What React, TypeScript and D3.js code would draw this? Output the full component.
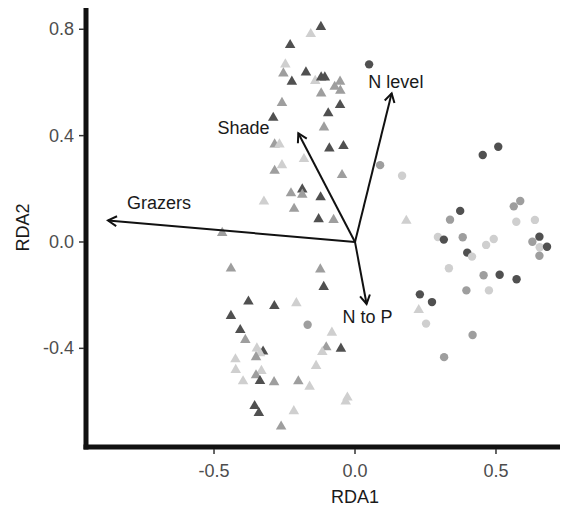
import React from 'react';
import * as d3 from 'd3';

// site scores, triangles (left group)
const triX = [-0.121, -0.157, -0.23, -0.247, -0.254, -0.174, -0.224, -0.141, -0.12, -0.107, -0.072, -0.053, -0.052, -0.12, -0.259, -0.053, -0.095, -0.29, -0.11, -0.285, -0.268, -0.091, -0.041, -0.181, -0.259, -0.285, -0.046, -0.187, -0.227, -0.187, -0.122, -0.323, -0.216, -0.129, -0.076, -0.471, -0.44, -0.123, -0.111, -0.378, -0.286, -0.208, -0.44, -0.407, -0.389, -0.082, -0.348, -0.326, -0.337, -0.351, -0.102, -0.116, -0.05, -0.424, -0.423, -0.332, -0.351, -0.138, -0.397, -0.337, -0.287, -0.201, -0.161, -0.027, -0.033, -0.356, -0.341, -0.217, -0.262, 0.182, 0.226];
const triY = [0.809, 0.782, 0.741, 0.668, 0.634, 0.638, 0.603, 0.606, 0.619, 0.619, 0.584, 0.603, 0.569, 0.559, 0.523, 0.515, 0.484, 0.467, 0.431, 0.367, 0.367, 0.352, 0.361, 0.312, 0.289, 0.268, 0.252, 0.198, 0.183, 0.178, 0.168, 0.152, 0.125, 0.086, 0.083, 0.034, -0.1, -0.103, -0.169, -0.224, -0.241, -0.23, -0.278, -0.331, -0.368, -0.341, -0.4, -0.412, -0.418, -0.433, -0.396, -0.414, -0.401, -0.441, -0.481, -0.485, -0.501, -0.466, -0.524, -0.523, -0.527, -0.524, -0.544, -0.585, -0.6, -0.617, -0.643, -0.636, -0.694, 0.08, -0.256];
const triShade = ['d', 'l', 'd', 'l', 'm', 'd', 'd', 'l', 'd', 'd', 'm', 'm', 'm', 'm', 'm', 'd', 'd', 'd', 'm', 'm', 'l', 'd', 'd', 'l', 'l', 'm', 'm', 'd', 'm', 'm', 'd', 'l', 'm', 'd', 'm', 'm', 'm', 'm', 'd', 'd', 'd', 'l', 'd', 'd', 'm', 'l', 'l', 'd', 'l', 'm', 'm', 'l', 'd', 'l', 'l', 'l', 'm', 'l', 'l', 'd', 'm', 'm', 'l', 'l', 'l', 'd', 'd', 'l', 'm', 'l', 'l'];

// site scores, circles (right group)
const cirX = [0.05, 0.089, 0.167, 0.453, 0.508, 0.563, 0.586, 0.373, 0.337, 0.572, 0.638, 0.294, 0.315, 0.382, 0.492, 0.465, 0.629, 0.654, 0.655, 0.681, 0.398, 0.415, 0.654, 0.333, 0.456, 0.513, 0.573, 0.395, 0.475, 0.23, 0.273, 0.252, 0.417, 0.316, -0.168];
const cirY = [0.668, 0.289, 0.249, 0.327, 0.358, 0.134, 0.154, 0.117, 0.084, 0.076, 0.083, 0.019, 0.009, 0.018, 0.011, -0.011, 0.001, 0.02, -0.02, -0.018, -0.04, -0.055, -0.052, -0.099, -0.125, -0.123, -0.14, -0.182, -0.182, -0.197, -0.226, -0.307, -0.35, -0.433, -0.311];
const cirShade = ['d', 'm', 'l', 'd', 'd', 'm', 'm', 'd', 'm', 'l', 'l', 'l', 'd', 'm', 'l', 'l', 'm', 'd', 'l', 'd', 'd', 'l', 'm', 'l', 'm', 'd', 'd', 'm', 'l', 'd', 'd', 'l', 'm', 'm', 'm'];

// environmental vectors
const arrowNames = ['Grazers', 'Shade', 'N level', 'N to P'];
const arrowX = [-0.876, -0.201, 0.13, 0.041];
const arrowY = [0.081, 0.409, 0.559, -0.233];
const labelX = [-0.695, -0.395, 0.145, 0.044];
const labelY = [0.147, 0.429, 0.603, -0.281];

const xTicks = [-0.5, 0, 0.5];
const yTicks = [-0.4, 0, 0.4, 0.8];

const shadeColor: Record<string, string> = { d: '#505050', m: '#9e9e9e', l: '#cfcfcf' };

const W = 563;
const H = 510;
const font = '"Liberation Sans", Arial, sans-serif';
// plain hyphen for negatives, like the original
const fmt = (v: number) => v.toFixed(1);

export default function App() {
  const x = d3.scaleLinear().domain([-0.954, 0.727]).range([86, 560]);
  const y = d3.scaleLinear().domain([-0.771, 0.88]).range([447, 8]);
  const tri = d3.symbol(d3.symbolTriangle, 48)() as string;

  const head = (i: number) => {
    const x1 = x(0), y1 = y(0);
    const x2 = x(arrowX[i]), y2 = y(arrowY[i]);
    const a = Math.atan2(y2 - y1, x2 - x1);
    const len = 10, sp = Math.PI / 6;
    const p1 = [x2 - len * Math.cos(a - sp), y2 - len * Math.sin(a - sp)];
    const p2 = [x2 - len * Math.cos(a + sp), y2 - len * Math.sin(a + sp)];
    return `M${p1[0]},${p1[1]}L${x2},${y2}L${p2[0]},${p2[1]}`;
  };

  return (
    <svg width={W} height={H} style={{ position: 'absolute', left: 0, top: 0, background: '#fff' }} fontFamily={font}>
      {/* points */}
      {triX.map((v, i) => (
        <path key={'t' + i} d={tri} transform={`translate(${x(v)},${y(triY[i])})`} fill={shadeColor[triShade[i]]} />
      ))}
      {cirX.map((v, i) => (
        <circle key={'c' + i} cx={x(v)} cy={y(cirY[i])} r={4.2} fill={shadeColor[cirShade[i]]} />
      ))}

      {/* arrows */}
      {arrowNames.map((n, i) => (
        <g key={n} stroke="#111" strokeWidth={2} fill="none">
          <line x1={x(0)} y1={y(0)} x2={x(arrowX[i])} y2={y(arrowY[i])} />
          <path d={head(i)} />
        </g>
      ))}
      {arrowNames.map((n, i) => (
        <text key={'l' + n} x={x(labelX[i])} y={y(labelY[i])} textAnchor="middle" dominantBaseline="central" fontSize={18} fill="#1a1a1a">
          {n}
        </text>
      ))}

      {/* axes */}
      <line x1={86} y1={8} x2={86} y2={449.5} stroke="#111" strokeWidth={5} />
      <line x1={83.5} y1={447} x2={560} y2={447} stroke="#111" strokeWidth={5} />
      {xTicks.map((t) => (
        <g key={'xt' + t}>
          <line x1={x(t)} x2={x(t)} y1={449} y2={454} stroke="#333" strokeWidth={1.5} />
          <text x={x(t)} y={477} textAnchor="middle" fontSize={18} fill="#4d4d4d">
            {fmt(t)}
          </text>
        </g>
      ))}
      {yTicks.map((t) => (
        <g key={'yt' + t}>
          <line x1={79} x2={84} y1={y(t)} y2={y(t)} stroke="#333" strokeWidth={1.5} />
          <text x={74} y={y(t)} textAnchor="end" dominantBaseline="central" fontSize={18} fill="#4d4d4d">
            {fmt(t)}
          </text>
        </g>
      ))}
      <text x={x(0)} y={503} textAnchor="middle" fontSize={18} fill="#1a1a1a">RDA1</text>
      <text transform={`translate(29,${(8 + 447) / 2}) rotate(-90)`} textAnchor="middle" fontSize={18} fill="#1a1a1a">RDA2</text>
    </svg>
  );
}
